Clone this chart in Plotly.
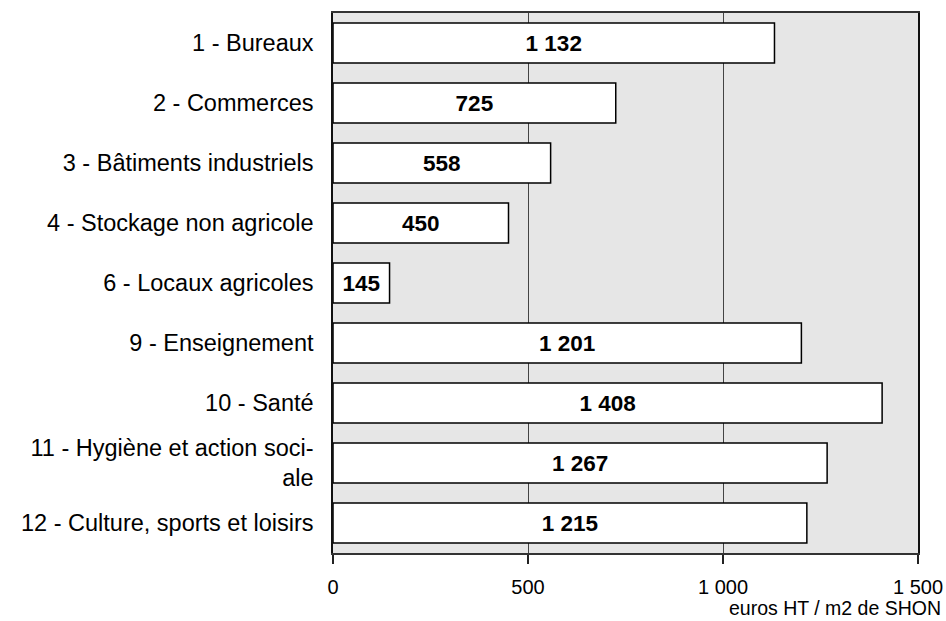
import plotly.graph_objects as go

# categories (top to bottom) and costs
categories = [
    "1 - Bureaux",
    "2 - Commerces",
    "3 - Bâtiments industriels",
    "4 - Stockage non agricole",
    "6 - Locaux agricoles",
    "9 - Enseignement",
    "10 - Santé",
    "11 - Hygiène et action soci-<br>ale",
    "12 - Culture, sports et loisirs",
]
values = [1132, 725, 558, 450, 145, 1201, 1408, 1267, 1215]
value_labels = ["1 132", "725", "558", "450", "145", "1 201", "1 408", "1 267", "1 215"]
tick_vals = [0, 500, 1000, 1500]
tick_text = ["0", "500", "1 000", "1 500"]

FONT = "Liberation Sans, Arial, Helvetica, sans-serif"

fig = go.Figure()
fig.add_trace(
    go.Bar(
        x=values,
        y=categories,
        orientation="h",
        marker=dict(color="white", line=dict(color="black", width=1.5)),
        text=value_labels,
        textposition="inside",
        insidetextanchor="middle",
        textangle=0,
        constraintext="none",
        textfont=dict(family=FONT, size=22.5, color="black", weight="bold"),
        hoverinfo="skip",
    )
)

fig.update_layout(
    width=946,
    height=621,
    margin=dict(l=333, r=28, t=13, b=68, autoexpand=False),
    paper_bgcolor="white",
    plot_bgcolor="#e6e6e6",
    bargap=1 / 3,
    showlegend=False,
    font=dict(family=FONT, size=22, color="black"),
)

fig.update_xaxes(
    range=[0, 1500],
    tickvals=tick_vals,
    ticktext=tick_text,
    ticks="outside",
    ticklen=9,
    tickcolor="#222",
    tickwidth=1.5,
    ticklabelstandoff=6,
    tickfont=dict(size=20),
    showgrid=True,
    gridcolor="#444",
    gridwidth=1.2,
    showline=True,
    linecolor="#333",
    linewidth=1.5,
    mirror=True,
    zeroline=False,
    fixedrange=True,
)

fig.update_yaxes(
    autorange="reversed",
    showline=True,
    linecolor="#111",
    linewidth=1.5,
    mirror=True,
    ticks="",
    ticklabelstandoff=13,
    tickfont=dict(size=23.5),
    showgrid=False,
    fixedrange=True,
)

fig.add_annotation(
    text="euros HT / m2 de SHON",
    xref="paper",
    yref="paper",
    x=1.041,
    y=-0.124,
    xanchor="right",
    yanchor="bottom",
    showarrow=False,
    borderpad=0,
    font=dict(size=19.5),
)

fig.write_html(
    "out.html",
    config={"displayModeBar": False},
    post_script="document.body.style.margin='0';",
)
